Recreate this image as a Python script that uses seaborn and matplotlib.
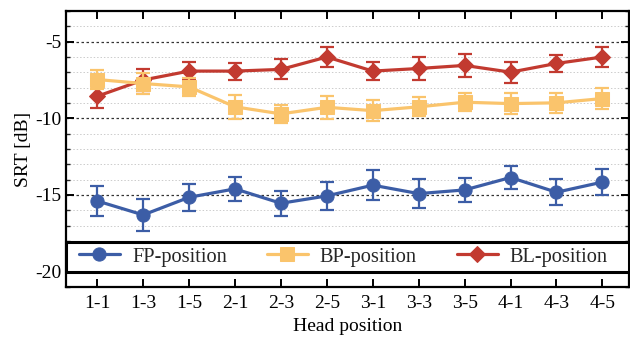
import matplotlib
matplotlib.use("Agg")
import matplotlib.pyplot as plt
import seaborn as sns
import pandas as pd
import numpy as np
from matplotlib.ticker import MultipleLocator
from matplotlib.patches import Rectangle

positions = ["1-1", "1-3", "1-5", "2-1", "2-3", "2-5", "3-1", "3-3", "3-5", "4-1", "4-3", "4-5"]
fp_mean = [-15.39, -16.30, -15.15, -14.60, -15.54, -15.06, -14.36, -14.91, -14.67, -13.86, -14.82, -14.16]
fp_err = [1.00, 1.05, 0.87, 0.78, 0.83, 0.89, 0.96, 0.93, 0.80, 0.78, 0.84, 0.84]
bp_mean = [-7.47, -7.73, -7.95, -9.25, -9.71, -9.28, -9.50, -9.25, -8.95, -9.04, -8.99, -8.71]
bp_err = [0.62, 0.66, 0.60, 0.77, 0.59, 0.75, 0.70, 0.61, 0.60, 0.71, 0.67, 0.66]
bl_mean = [-8.56, -7.50, -6.92, -6.92, -6.81, -6.00, -6.92, -6.75, -6.55, -6.99, -6.42, -6.00]
bl_err = [0.74, 0.69, 0.60, 0.56, 0.65, 0.63, 0.61, 0.74, 0.77, 0.69, 0.56, 0.65]
series_names = ["FP-position", "BP-position", "BL-position"]
colors = ["#3C5DA6", "#FAC46C", "#C23A30"]
markers = ["o", "s", "D"]
marker_sizes = [9.5, 9.5, 8]

sns.set_theme(style="white")
plt.rcParams['font.family'] = ['Liberation Serif', 'DejaVu Serif']
plt.rcParams['axes.unicode_minus'] = False

rows = []
for name, m, e in zip(series_names, [fp_mean, bp_mean, bl_mean], [fp_err, bp_err, bl_err]):
    for i, (p, v, err) in enumerate(zip(positions, m, e)):
        rows.append({"idx": i, "pos": p, "SRT": v, "err": err, "series": name})
df = pd.DataFrame(rows)

fig = plt.figure(figsize=(6.3, 3.38), dpi=100)
ax = fig.add_axes([0.1048, 0.1509, 0.8937, 0.8166])

zorders = {"FP-position": 3, "BP-position": 5, "BL-position": 4}
for name, c, mk, ms in zip(series_names, colors, markers, marker_sizes):
    sub = df[df["series"] == name]
    ax.errorbar(sub["idx"], sub["SRT"], yerr=sub["err"], fmt="none", ecolor=c,
                elinewidth=1.6, capsize=5, capthick=1.6, zorder=zorders[name])
    sns.lineplot(data=sub, x="idx", y="SRT", ax=ax, color=c, marker=mk, markersize=ms,
                 markeredgecolor=c, linewidth=2.3, label=name, zorder=zorders[name])

ax.set_xlim(-0.68, 11.58)
ax.set_ylim(-21, -3)
ax.set_xticks(range(len(positions)))
ax.set_xticklabels(positions)
ax.set_yticks([-5, -10, -15, -20])
ax.yaxis.set_minor_locator(MultipleLocator(1))
ax.grid(which="major", axis="y", color="#333333", linestyle=(0, (2, 2)), linewidth=0.9)
ax.grid(which="minor", axis="y", color="#cccccc", linestyle=(0, (1.5, 2)), linewidth=0.7)
ax.grid(which="major", axis="x", visible=False)
ax.set_axisbelow(True)

for s in ax.spines.values():
    s.set_color("black")
    s.set_linewidth(1.6)

ax.tick_params(axis="x", which="major", direction="in", length=6, width=1.4, top=True, bottom=True,
               labelsize=14, colors="black", pad=6)
ax.tick_params(axis="y", which="major", direction="in", length=6, width=1.4, left=True, right=True,
               labelsize=14, colors="black")
ax.tick_params(axis="y", which="minor", direction="in", length=3, width=1.0, left=True, right=True)

ax.set_xlabel("Head position", fontsize=14, color="black", labelpad=4)
ax.set_ylabel("SRT [dB]", fontsize=14, color="black", labelpad=2)

# legend frame spanning the axes width
frame = Rectangle((0.0, 0.054), 1.0, 0.109, transform=ax.transAxes, facecolor="white",
                  edgecolor="black", linewidth=2.2, zorder=6, clip_on=False)
ax.add_patch(frame)
leg = ax.legend(loc="center left", bbox_to_anchor=(13 / 563, 0.109), ncol=3, fontsize=14.7,
                frameon=False, handlelength=2.0, borderaxespad=0, borderpad=0,
                handletextpad=0.6, columnspacing=1.95)
leg.set_zorder(7)

fig.savefig("out.png", dpi=100)
